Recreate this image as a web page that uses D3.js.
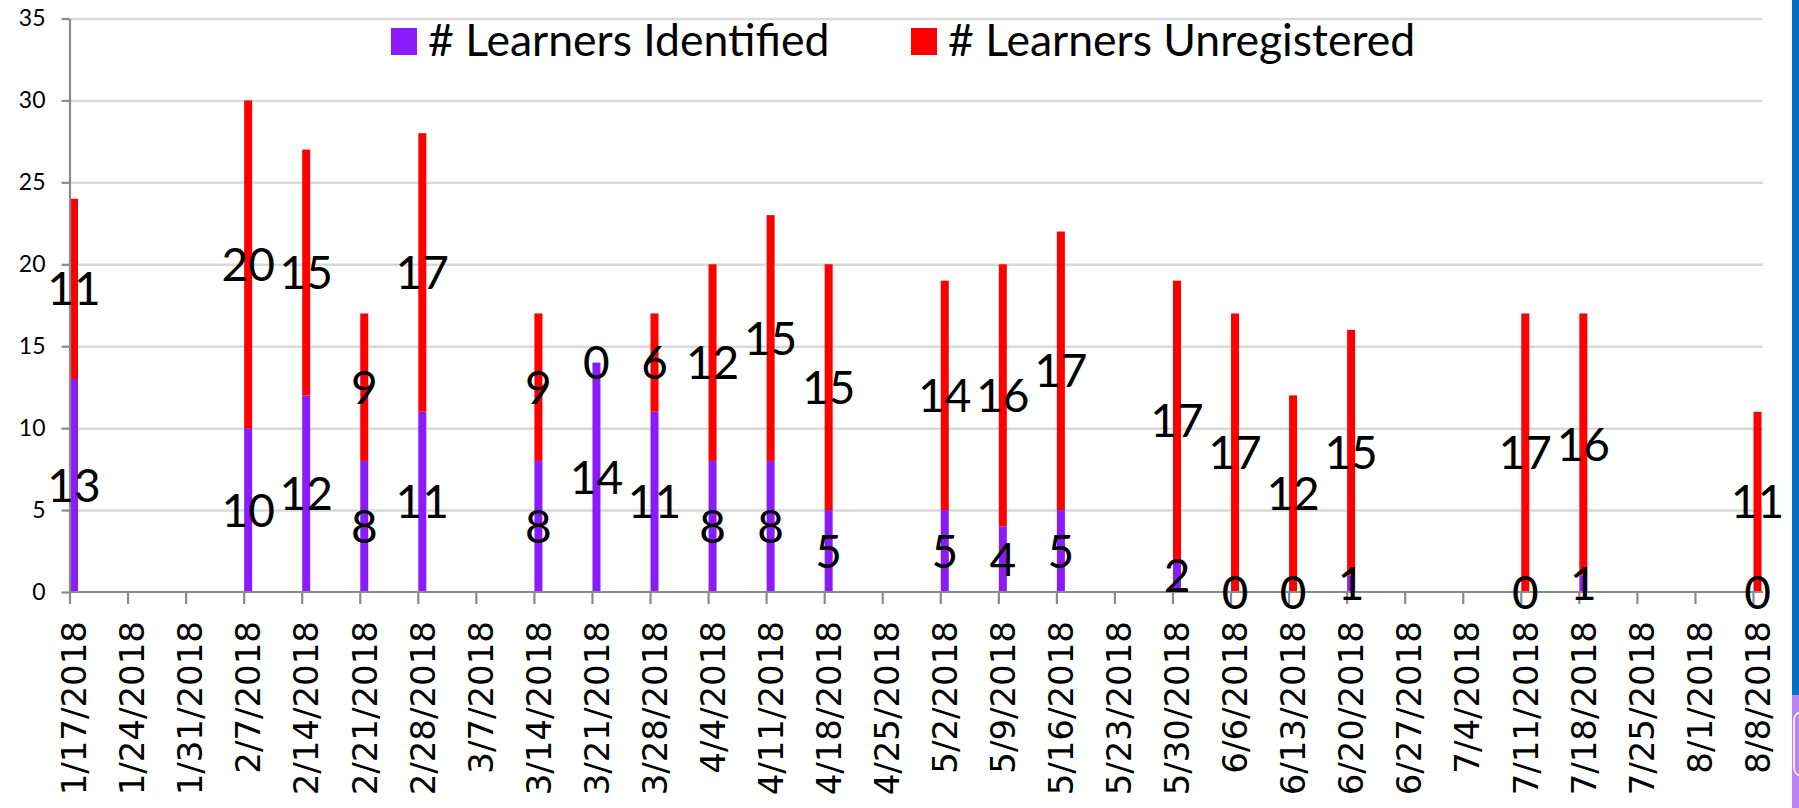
<!DOCTYPE html>
<html>
<head>
<meta charset="utf-8">
<script src="https://cdn.jsdelivr.net/npm/d3@7"></script>
<style>
  html, body { margin: 0; padding: 0; background: #ffffff; }
  svg { display: block; }
</style>
</head>
<body>
<svg id="chart" width="1799" height="808"></svg>
<script>
// ---- data ----
const dates = ["1/17/2018","1/24/2018","1/31/2018","2/7/2018","2/14/2018","2/21/2018","2/28/2018",
  "3/7/2018","3/14/2018","3/21/2018","3/28/2018","4/4/2018","4/11/2018","4/18/2018","4/25/2018",
  "5/2/2018","5/9/2018","5/16/2018","5/23/2018","5/30/2018","6/6/2018","6/13/2018","6/20/2018",
  "6/27/2018","7/4/2018","7/11/2018","7/18/2018","7/25/2018","8/1/2018","8/8/2018"];
const identified   = [13,null,null,10,12,8,11,null,8,14,11,8,8,5,null,5,4,5,null,2,0,0,1,null,null,0,1,null,null,0];
const unregistered = [11,null,null,20,15,9,17,null,9,0,6,12,15,15,null,14,16,17,null,17,17,12,15,null,null,17,16,null,null,11];
const seriesNames = ["# Learners Identified", "# Learners Unregistered"];
const seriesColors = ["#8a1cfb", "#ff0000"];
const yTicks = [0,5,10,15,20,25,30,35];

// ---- layout ----
const svg = d3.select("#chart");
const plotLeft = 69.5, plotRight = 1763, lastTick = 1753, plotTop = 18.5, plotBottom = 592;

const x = d3.scalePoint().domain(dates).range([plotLeft, lastTick]);
const y = d3.scaleLinear().domain([0, 35]).range([plotBottom, plotTop]);

const barW = 8;
const barOff = 0.5;

// gridlines
svg.append("g")
  .attr("transform", `translate(${plotLeft},0)`)
  .call(d3.axisLeft(y).tickValues(yTicks.filter(v => v > 0)).tickSize(-(plotRight - plotLeft)).tickFormat(""))
  .call(g => g.select(".domain").remove())
  .call(g => g.selectAll("line").attr("stroke", "#d9d9d9").attr("stroke-width", 2.5));

// stacked data
const rows = dates.map((d, i) => ({date: d, a: identified[i], b: unregistered[i]}));
const segs = [];
rows.forEach(r => {
  if (r.a === null && r.b === null) return;
  const a = r.a || 0, b = r.b || 0;
  segs.push({date: r.date, y0: 0, y1: a, v: r.a, s: 0});
  segs.push({date: r.date, y0: a, y1: a + b, v: r.b, s: 1});
});

// bars
svg.append("g").selectAll("rect")
  .data(segs.filter(d => d.y1 > d.y0))
  .join("rect")
  .attr("x", d => x(d.date) + barOff)
  .attr("width", barW)
  .attr("y", d => y(d.y1))
  .attr("height", d => y(d.y0) - y(d.y1))
  .attr("fill", d => seriesColors[d.s]);

// y axis
svg.append("g")
  .attr("transform", `translate(${plotLeft},0)`)
  .call(d3.axisLeft(y).tickValues(yTicks).tickSize(8).tickSizeOuter(0).tickPadding(16))
  .call(g => g.select(".domain").attr("stroke", "#8a8a8a").attr("stroke-width", 2.2))
  .call(g => g.selectAll(".tick line").attr("stroke", "#8a8a8a").attr("stroke-width", 2.2))
  .call(g => g.selectAll(".tick text")
      .attr("font-family", "Lato, 'Open Sans', sans-serif")
      .attr("font-size", 23).attr("fill", "#000"));

// x axis
const xg = svg.append("g")
  .attr("transform", `translate(0,${plotBottom})`)
  .call(d3.axisBottom(x).tickSize(12).tickSizeOuter(0).tickFormat(""));
xg.select(".domain").remove();
xg.selectAll(".tick line").attr("stroke", "#8a8a8a").attr("stroke-width", 2.2);
xg.append("line")
  .attr("x1", plotLeft).attr("x2", plotRight).attr("y1", 0).attr("y2", 0)
  .attr("stroke", "#8a8a8a").attr("stroke-width", 2.2);

// x tick labels (rotated)
svg.append("g").selectAll("text")
  .data(dates)
  .join("text")
  .attr("transform", d => `translate(${x(d) + barOff + barW / 2},621) rotate(-90)`)
  .attr("text-anchor", "end")
  .attr("dy", "0.36em")
  .attr("font-family", "'DejaVu Sans', sans-serif")
  .attr("font-size", 34)
  .attr("fill", "#000")
  .text(d => d);

// data labels
svg.append("g").selectAll("text")
  .data(segs)
  .join("text")
  .attr("x", d => x(d.date) + barOff + barW / 2)
  .attr("y", d => y((d.y0 + d.y1) / 2))
  .attr("dy", "0.36em")
  .attr("text-anchor", "middle")
  .attr("font-family", "Lato, 'Open Sans', sans-serif")
  .attr("font-size", 46)
  .attr("fill", "#000")
  .text(d => d.v);

// legend
const legendX = [391, 911];
const lg = svg.append("g");
seriesNames.forEach((name, i) => {
  lg.append("rect").attr("x", legendX[i]).attr("y", 28).attr("width", 26).attr("height", 27)
    .attr("fill", seriesColors[i]);
  lg.append("text").attr("x", legendX[i] + 37).attr("y", 56)
    .attr("font-family", "Lato, 'Open Sans', sans-serif")
    .attr("font-size", 44.5).attr("fill", "#000")
    .text(name);
});

// right-edge window decorations
svg.append("rect").attr("x", 1792).attr("y", 0).attr("width", 7).attr("height", 695).attr("fill", "#0070c8");
svg.append("rect").attr("x", 1792).attr("y", 695).attr("width", 7).attr("height", 113).attr("fill", "#b884f8");
svg.append("rect").attr("x", 1794).attr("y", 712).attr("width", 20).attr("height", 64).attr("rx", 8)
  .attr("fill", "none").attr("stroke", "#ffffff").attr("stroke-width", 1.5);
</script>
</body>
</html>
